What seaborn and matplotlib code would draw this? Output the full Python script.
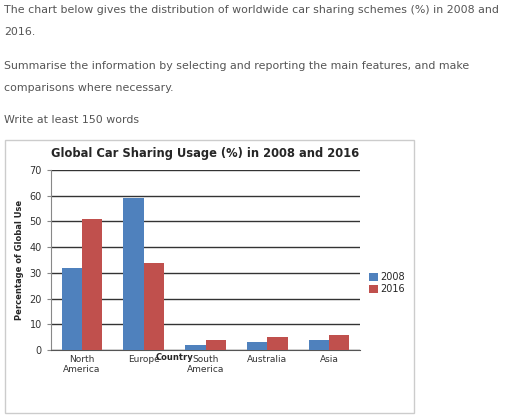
import matplotlib
matplotlib.use("Agg")
import matplotlib.pyplot as plt
import seaborn as sns
import pandas as pd
from matplotlib.patches import Rectangle

regions = ["North\nAmerica", "Europe", "South\nAmerica", "Australia", "Asia"]
years = ["2008", "2016"]
usage_2008 = [32, 59, 2, 3, 4]
usage_2016 = [51, 34, 4, 5, 6]
yticks = [0, 10, 20, 30, 40, 50, 60, 70]

df = pd.DataFrame({
    "Region": regions * 2,
    "Year": [years[0]] * 5 + [years[1]] * 5,
    "Usage": usage_2008 + usage_2016,
})

sns.set_style("white")
plt.rcParams['font.family'] = ['DejaVu Sans']
fig = plt.figure(figsize=(5.12, 4.17), dpi=100)

gray = "#555555"
fs = 7.95
fig.text(0.008, 0.977, "The chart below gives the distribution of worldwide car sharing schemes (%) in 2008 and",
         fontsize=fs, color=gray, va="center")
fig.text(0.008, 0.923, "2016.", fontsize=fs, color=gray, va="center")
fig.text(0.008, 0.842, "Summarise the information by selecting and reporting the main features, and make",
         fontsize=fs, color=gray, va="center")
fig.text(0.008, 0.789, "comparisons where necessary.", fontsize=fs, color=gray, va="center")
fig.text(0.008, 0.712, "Write at least 150 words", fontsize=fs, color=gray, va="center")

fig.patches.append(Rectangle((5/512, 4/417), 409/512, 273/417, transform=fig.transFigure,
                             fill=False, edgecolor="#cccccc", lw=1))

ax = fig.add_axes([51/512, 67/417, 309/512, 180/417])
sns.barplot(data=df, x="Region", y="Usage", hue="Year",
            palette=["#4F81BD", "#C0504D"], width=0.66, saturation=1, ax=ax, zorder=3,
            linewidth=0, gap=0)
ax.set_xlim(-0.5, 4.5)
ax.set_ylim(0, 70)
ax.set_yticks(yticks)
ax.yaxis.grid(True, color="#333333", lw=1)
ax.set_axisbelow(True)
for s in ["top", "right"]:
    ax.spines[s].set_visible(False)
ax.spines["left"].set_color("#888888")
ax.spines["bottom"].set_color("#555555")
ax.tick_params(axis="y", labelsize=7, colors="#333333", length=3, left=True, color="#888888")
ax.tick_params(axis="x", labelsize=6.5, colors="#333333", length=0)
ax.set_xlabel("")
ax.set_ylabel("Percentage of Global Use", fontsize=6, fontweight="bold")
ax.set_title("Global Car Sharing Usage (%) in 2008 and 2016", fontsize=8.3, fontweight="bold", pad=9)
fig.text(174/512, 1 - 358/417, "Country", fontsize=6, fontweight="bold", ha="center", va="center")
ax.legend(loc="center left", bbox_to_anchor=(1.0, 0.37), frameon=False, fontsize=7,
          handlelength=0.9, handleheight=0.9, handletextpad=0.3, labelspacing=0.2)

fig.savefig("out.png", dpi=100)
